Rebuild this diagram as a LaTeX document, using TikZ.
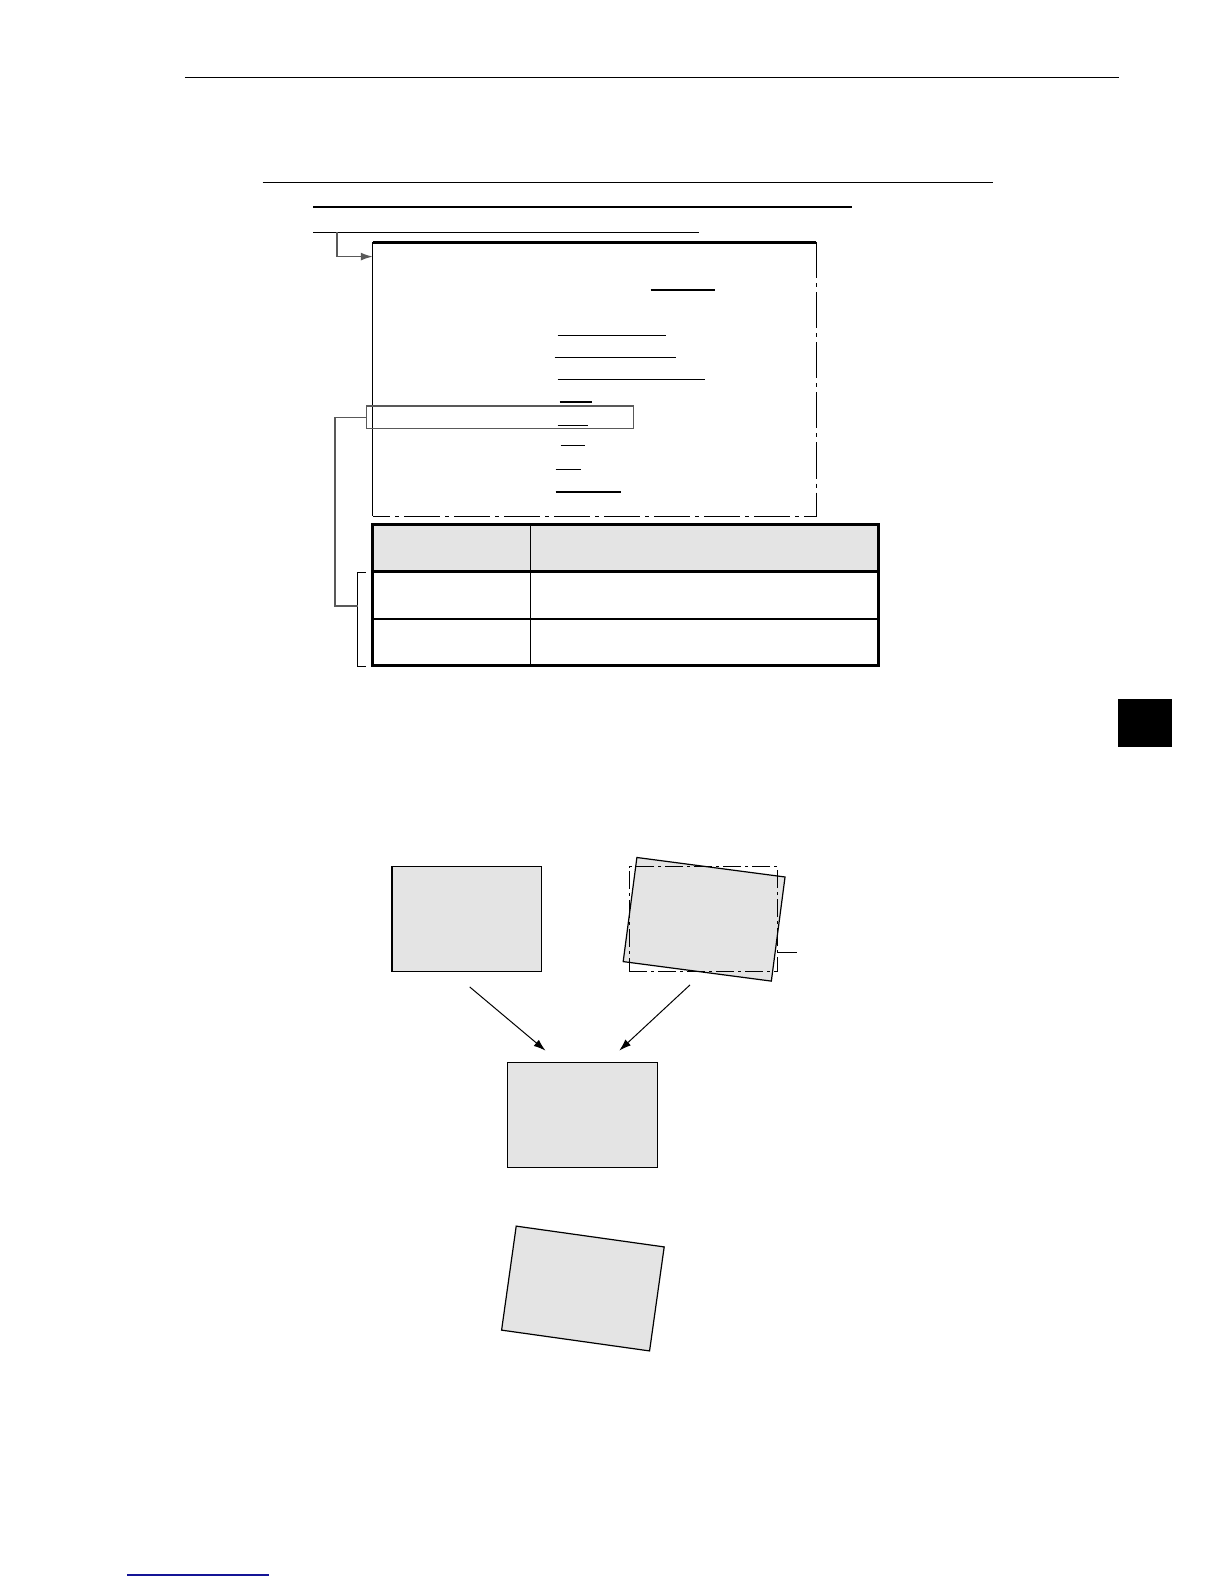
\documentclass[tikz,border=0pt]{standalone}
\usetikzlibrary{arrows.meta,fit}
\definecolor{panelgray}{RGB}{228,228,228}
\definecolor{footblue}{RGB}{20,20,150}
\begin{document}
\begin{tikzpicture}[x=0.505pt,y=-0.505pt,
  rule/.style={line width=0.6pt},
  conn/.style={line width=0.7pt, draw=gray!70!black},
  dashdotbig/.style={line width=0.7pt, dash pattern=on 18pt off 2.5pt on 2pt off 2.5pt},
  dashdotsmall/.style={line width=0.6pt, dash pattern=on 9pt off 2pt on 1.5pt off 2pt},
  panel/.style={draw, line width=0.6pt, fill=panelgray, minimum width=74.7pt, minimum height=52.5pt, inner sep=0pt, outer sep=0pt},
  frame/.style={inner sep=0pt, outer sep=0pt},
  arr/.style={line width=0.5pt, -{Latex[length=6pt,width=4pt]}}
]
\useasboundingbox (0,0) rectangle (1212,1568);

% header rule
\coordinate (hrL) at (183,77); \coordinate (hrR) at (1108,77);
\draw[rule] (hrL) -- (hrR);

% top rules
\coordinate (lAL) at (260,181); \coordinate (lAR) at (983,181);
\coordinate (lBL) at (310,205); \coordinate (lBR) at (843,205);
\coordinate (lCL) at (310,230); \coordinate (lCR) at (692,230);
\draw[rule] (lAL) -- (lAR);
\draw[rule] (lBL) -- (lBR);
\draw[rule] (lCL) -- (lCR);

% big box
\coordinate (bxTL) at (369,240); \coordinate (bxBR) at (808,511);
\node[frame, fit=(bxTL)(bxBR)] (box) {};
\draw[line width=1.2pt] (box.north west) -- (box.north east);
\draw[rule] (box.north west) -- (box.south west);
\draw[dashdotbig] (box.north east) -- (box.south east) -- (box.south west);

% connector into box
\coordinate (c0) at (333.5,230);
\coordinate (c1) at (369,254);
\draw[conn, -{Latex[length=6pt,width=4pt]}] (c0) |- (c1);

% underlines inside box
\draw[rule] (644,287) -- (708,287);
\draw[rule] (552,332) -- (659,332);
\draw[rule] (549,354) -- (669,354);
\draw[rule] (552,376) -- (698,376);
\draw[rule] (554,398) -- (586,398);
\draw[rule] (552,421) -- (582,421);
\draw[rule] (555,441) -- (579,441);
\draw[rule] (550,465) -- (575,465);
\draw[rule] (550,487) -- (615,487);

% highlight rectangle
\coordinate (hlTL) at (363,402); \coordinate (hlBR) at (627,424);
\node[frame, fit=(hlTL)(hlBR), draw=gray!70!black, line width=0.7pt] (hl) {};

% table
\coordinate (tTL) at (369,519); \coordinate (tBR) at (870,659);
\node[frame, fit=(tTL)(tBR)] (tbl) {};
\fill[panelgray] (369,519) rectangle (870,566);
\draw[line width=0.8pt] (525,519) -- (525,659);
\draw[line width=1.5pt] (369,566) -- (870,566);
\draw[line width=1.2pt] (369,613) -- (870,613);
\draw[line width=1.6pt] (tbl.north west) rectangle (tbl.south east);

% bracket
\coordinate (brT) at (362,567); \coordinate (brB) at (362,660);
\coordinate (brM) at (354,600);
\draw[rule] (brT) -- (354,567) -- (354,660) -- (brB);

% connector from highlight to bracket
\draw[conn] (hl.west) -- (331.5,413) |- (brM);

% black tab
\coordinate (tabTL) at (1107,692); \coordinate (tabBR) at (1160,739);
\node[frame, fit=(tabTL)(tabBR), fill=black] (tab) {};

% bottom panels
\node[panel] (pA) at (462,910) {};
\node[panel, rotate=-7.5] (pB) at (697,910) {};
\node[frame, draw, dashdotsmall, minimum width=74.2pt, minimum height=52.5pt] (pBref) at (696.5,910) {};
\coordinate (ldr) at (789,943);
\draw[rule] (pBref.east |- ldr) -- (ldr);
\node[panel] (pC) at (576.5,1104) {};
\node[panel, rotate=-8] (pD) at (577,1275.5) {};

% arrows
\coordinate (a1s) at (465,977); \coordinate (a1e) at (540,1040);
\coordinate (a2s) at (683,975); \coordinate (a2e) at (613,1040);
\draw[arr] (a1s) -- (a1e);
\draw[arr] (a2s) -- (a2e);

% footer link rule
\coordinate (fL) at (126,1559); \coordinate (fR) at (266,1559);
\draw[line width=0.7pt, footblue] (fL) -- (fR);
\end{tikzpicture}
\end{document}
